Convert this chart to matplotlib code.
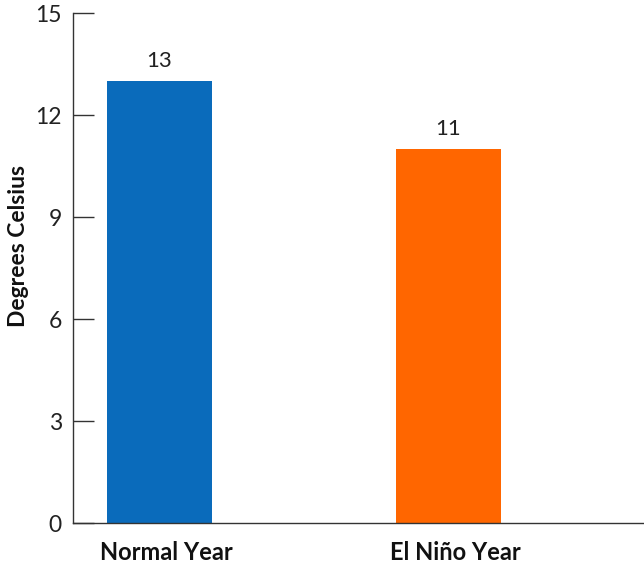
import matplotlib.pyplot as plt

categories = ["Normal Year", "El Niño Year"]
temps = [13, 11]
colors = ["#0A6BBB", "#FF6600"]
yticks = [0, 3, 6, 9, 12, 15]

plt.rcParams['font.family'] = ['Lato', 'DejaVu Sans']

fig = plt.figure(figsize=(6.44, 5.63), dpi=100)
ax = fig.add_axes([73 / 644, 40 / 563, 1 - 73 / 644, 510 / 563])

x = list(range(len(categories)))
ax.bar(x, temps, width=0.363, color=colors, zorder=1)

# value on top of each bar
for xi, t in zip(x, temps):
    ax.text(xi, t + 0.3, str(t), ha='center', va='bottom', fontsize=16, color='#222222')

ax.set_xlim(-0.299, 1.676)
ax.set_ylim(0, 15)
ax.set_yticks(yticks)
ax.set_yticklabels([str(v) for v in yticks], fontsize=16.5, color='#222222')
ax.tick_params(axis='y', direction='in', length=15, width=1, color='#333333', pad=8)
# category names sit a little right of the bar centres
ax.set_xticks([xi + 0.025 for xi in x])
ax.set_xticklabels(categories, fontsize=17, fontweight='bold', color='#111111')
ax.tick_params(axis='x', length=0, pad=13)

for side in ['top', 'right']:
    ax.spines[side].set_visible(False)
for side in ['left', 'bottom']:
    ax.spines[side].set_color('#333333')
    ax.spines[side].set_linewidth(1)
    ax.spines[side].set_zorder(3)

ax.set_ylabel('Degrees Celsius', fontsize=16.5, fontweight='bold', color='#111111',
              va='center', ha='center')
ax.yaxis.set_label_coords(-0.0946, 0.543)

fig.savefig('out.png', dpi=100)
